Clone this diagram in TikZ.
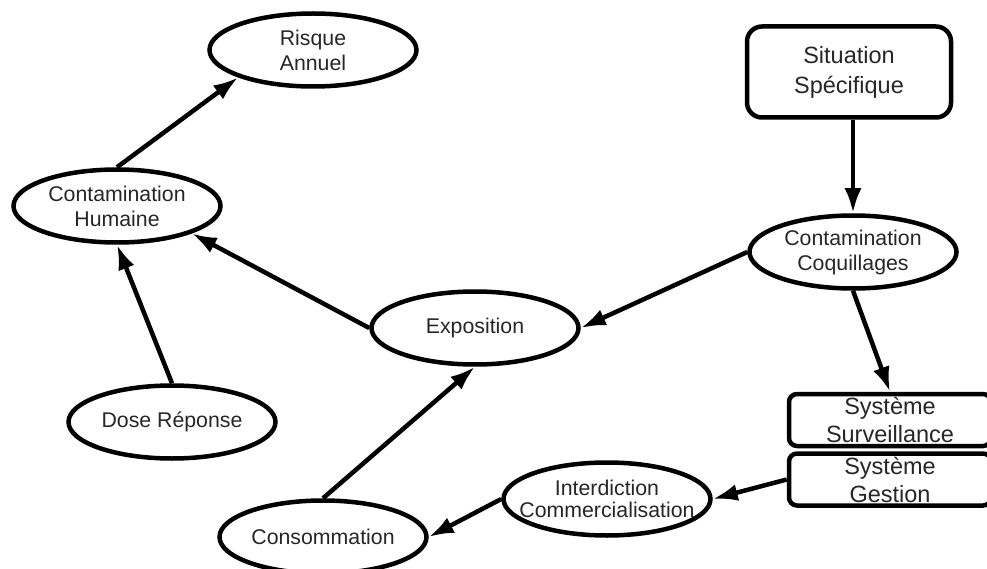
\documentclass[tikz,border=0pt]{standalone}
\usepackage{fontspec}
\setmainfont{Liberation Sans}
\usetikzlibrary{shapes,arrows.meta,positioning}
\definecolor{txtgray}{HTML}{262626}

\begin{document}
\begin{tikzpicture}[x=1pt, y=-1pt, line width=4.5pt,
    ell/.style={ellipse, draw, minimum width=207pt, minimum height=73pt, inner xsep=-40pt, inner ysep=-8pt, align=center, text=txtgray, font=\fontsize{21.3}{25}\selectfont},
    box/.style={rectangle, draw, rounded corners=8pt, minimum width=202pt, minimum height=52pt, inner sep=0pt, align=center, text=txtgray, font=\fontsize{23.5}{28}\selectfont},
    sit/.style={box, rounded corners=15pt, minimum width=204pt, minimum height=91pt, font=\fontsize{23.5}{30}\selectfont},
    link/.style={-{Latex[length=25pt,width=17pt]}}]
    \clip (0,0) rectangle (987,569);

    \node[ell] (risque) at (313,50) {Risque\\Annuel};
    \node[ell] (humaine) at (117,206) {Contamination\\Humaine};
    \node[sit] (situation) at (849,72) {Situation\\Spécifique};
    \node[ell] (coquil) at (853,252) {Contamination\\Coquillages};
    \node[ell] (expo) at (475,328) {Exposition};
    \node[ell] (dose) at (172,422) {Dose Réponse};
    \node[box] (surv) at (890,420) {Système\\Surveillance};
    \node[box, below=3pt of surv] (gestion) {Système\\Gestion};
    \node[ell, font=\fontsize{21.3}{22}\selectfont] (interdit) at (607,499) {Interdiction\\Commercialisation};
    \node[ell] (conso) at (323,537) {Consommation};

    \draw[link] (humaine.north) -- (risque.south west);
    \draw[link] (dose.north) -- (humaine.south);
    \draw[link] (expo.west) -- (humaine.south east);
    \draw[link] (coquil.north |- situation.south) -- (coquil.north);
    \draw[link] (coquil.west) -- (expo.east);
    \draw[link] (coquil.south) -- (surv.north);
    \draw[link] (gestion.west) -- (interdit.east);
    \draw[link] (interdit.west) -- (conso.east);
    \draw[link] (conso.north) -- (expo.south);
\end{tikzpicture}
\end{document}
